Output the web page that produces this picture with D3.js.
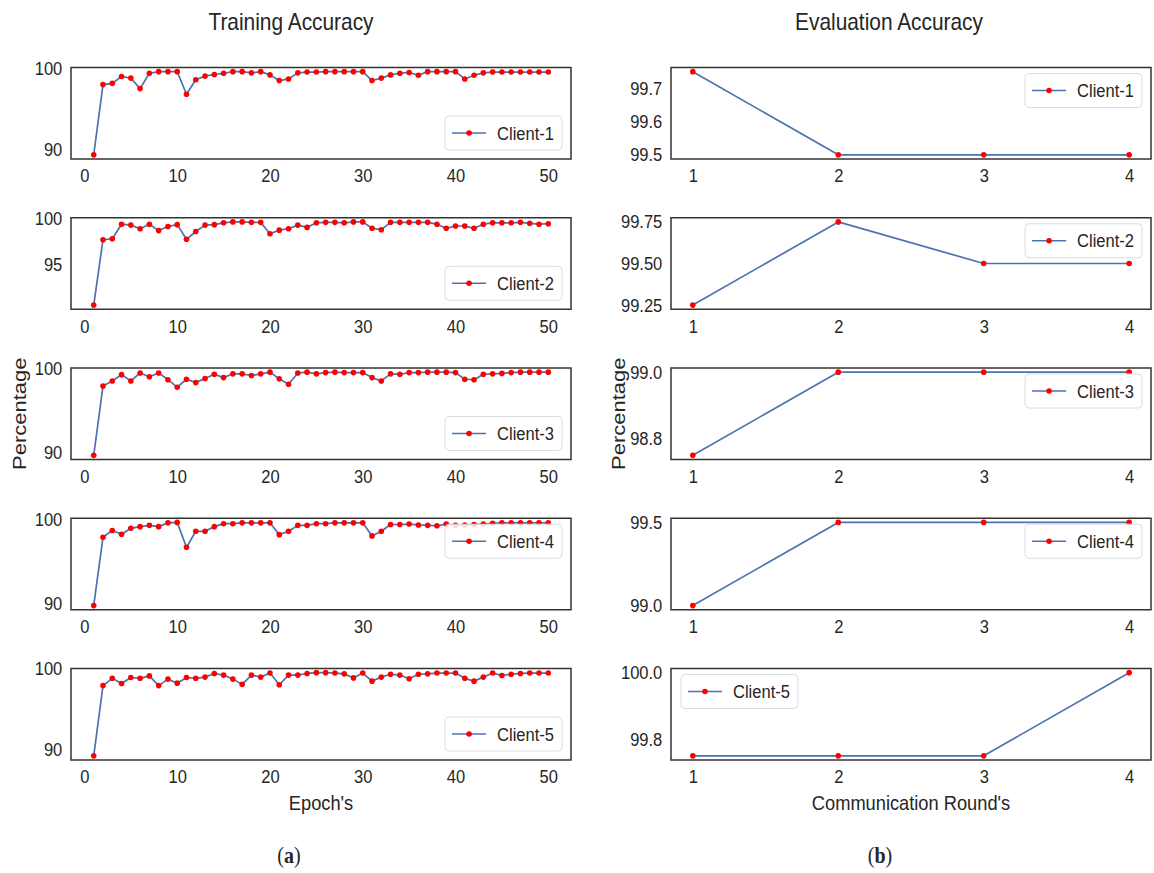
<!DOCTYPE html>
<html>
<head>
<meta charset="utf-8">
<script src="https://cdn.jsdelivr.net/npm/d3@7"></script>
<style>
  body { margin: 0; background: #fff; }
  svg { display: block; }
  text { font-family: "Liberation Sans", Arial, sans-serif; fill: #262626; }
  .caption { font-family: "Liberation Serif", "Times New Roman", serif; }
</style>
</head>
<body>
<svg id="chart" width="1154" height="873"></svg>
<script>
// ---- training accuracy per epoch (%) ----
const epochs = d3.range(1, 51);
const trainClient1 = [89.3, 98.0, 98.15, 99.0, 98.8, 97.5, 99.4, 99.6, 99.6, 99.6,
  96.8, 98.6, 99.05, 99.25, 99.4, 99.6, 99.6, 99.45, 99.6, 99.2,
  98.5, 98.7, 99.45, 99.55, 99.55, 99.6, 99.6, 99.6, 99.6, 99.6,
  98.5, 98.8, 99.2, 99.4, 99.5, 99.15, 99.6, 99.6, 99.6, 99.6,
  98.7, 99.15, 99.45, 99.55, 99.55, 99.55, 99.55, 99.55, 99.55, 99.55];
const trainClient2 = [90.55, 97.7, 97.8, 99.4, 99.3, 98.9, 99.4, 98.7, 99.15, 99.35,
  97.75, 98.6, 99.3, 99.35, 99.55, 99.65, 99.65, 99.6, 99.6, 98.35,
  98.75, 98.9, 99.3, 99.05, 99.55, 99.6, 99.6, 99.55, 99.65, 99.65,
  98.95, 98.8, 99.6, 99.6, 99.6, 99.6, 99.6, 99.4, 98.95, 99.2,
  99.2, 98.95, 99.4, 99.55, 99.55, 99.55, 99.6, 99.5, 99.4, 99.45];
const trainClient3 = [89.6, 97.9, 98.5, 99.25, 98.5, 99.45, 99.0, 99.45, 98.65, 97.75,
  98.7, 98.3, 98.8, 99.3, 98.9, 99.35, 99.35, 99.15, 99.35, 99.55,
  98.75, 98.1, 99.45, 99.55, 99.35, 99.5, 99.55, 99.5, 99.5, 99.5,
  98.9, 98.5, 99.35, 99.3, 99.5, 99.5, 99.55, 99.55, 99.55, 99.5,
  98.7, 98.65, 99.3, 99.35, 99.4, 99.5, 99.55, 99.55, 99.55, 99.55];
const trainClient4 = [89.8, 97.9, 98.7, 98.25, 98.95, 99.15, 99.3, 99.15, 99.6, 99.65,
  96.7, 98.6, 98.6, 99.15, 99.5, 99.5, 99.6, 99.6, 99.6, 99.6,
  98.2, 98.6, 99.3, 99.3, 99.5, 99.5, 99.6, 99.6, 99.6, 99.6,
  98.05, 98.6, 99.4, 99.4, 99.45, 99.35, 99.3, 99.25, 99.45, 99.3,
  99.35, 99.4, 99.45, 99.55, 99.6, 99.6, 99.6, 99.6, 99.6, 99.6];
const trainClient5 = [89.2, 97.9, 98.8, 98.15, 98.9, 98.8, 99.1, 97.9, 98.7, 98.2,
  98.9, 98.8, 98.95, 99.4, 99.2, 98.7, 98.05, 99.2, 98.95, 99.45,
  98.0, 99.2, 99.2, 99.4, 99.5, 99.5, 99.45, 99.35, 98.85, 99.45,
  98.45, 98.95, 99.3, 99.2, 98.75, 99.3, 99.35, 99.45, 99.45, 99.45,
  98.8, 98.45, 98.95, 99.45, 99.15, 99.3, 99.4, 99.45, 99.45, 99.45];

// ---- evaluation accuracy per communication round (%) ----
const rounds = [1, 2, 3, 4];
const evalClient1 = [99.75, 99.5, 99.5, 99.5];
const evalClient2 = [99.25, 99.75, 99.5, 99.5];
const evalClient3 = [98.75, 99.0, 99.0, 99.0];
const evalClient4 = [99.0, 99.5, 99.5, 99.5];
const evalClient5 = [99.75, 99.75, 99.75, 100.0];

const clientNames = ["Client-1", "Client-2", "Client-3", "Client-4", "Client-5"];

// ---- tick labels ----
const trainXTicks = [0, 10, 20, 30, 40, 50];
const evalXTicks = [1, 2, 3, 4];
const trainYTicks = [[90, 100], [95, 100], [90, 100], [90, 100], [90, 100]];
const evalYTicks = [[99.5, 99.6, 99.7], [99.25, 99.5, 99.75], [98.8, 99.0], [99.0, 99.5], [99.8, 100.0]];
const evalYFormats = [".1f", ".2f", ".1f", ".1f", ".1f"];
const trainLegendCorner = ["lr", "lr", "lr", "ur", "lr"];
const evalLegendCorner = ["ur", "ur", "ur", "ur", "ul"];

const trainSeries = [trainClient1, trainClient2, trainClient3, trainClient4, trainClient5];
const evalSeries = [evalClient1, evalClient2, evalClient3, evalClient4, evalClient5];

// ---- layout ----
const svg = d3.select("#chart");
svg.append("rect").attr("width", 1154).attr("height", 873).attr("fill", "#fff");

const rowTops = [67.5, 217.75, 368, 518.25, 668.5];
const panelH = 91.5;
const columns = [
  { x0: 71, x1: 571, title: "Training Accuracy", titleX: 291, xlabel: "Epoch's", ylabelX: 19,
    xs: epochs, series: trainSeries, xTicks: trainXTicks, yTicks: trainYTicks,
    yFmt: [null, null, null, null, null], legend: trainLegendCorner, caption: "a", capX: 289 },
  { x0: 671, x1: 1151, title: "Evaluation Accuracy", titleX: 889, xlabel: "Communication Round's", ylabelX: 618,
    xs: rounds, series: evalSeries, xTicks: evalXTicks, yTicks: evalYTicks,
    yFmt: evalYFormats, legend: evalLegendCorner, caption: "b", capX: 880 }
];

const LINE = "#4c72b0";
const DOT = "#ff0000";
const FS = 19;      // tick and legend text
const SX = 0.87;    // narrow letterforms

function padded(ext, frac) {
  const span = ext[1] - ext[0];
  return [ext[0] - span * frac, ext[1] + span * frac];
}

// text placed at (x, y) with narrowed glyphs
function narrowText(parent, x, y, str, size, anchor) {
  return parent.append("text")
    .attr("transform", `translate(${x},${y}) scale(${SX},1)`)
    .attr("text-anchor", anchor || "start")
    .attr("font-size", size).text(str);
}

columns.forEach(col => {
  const xExt = d3.extent(col.xs);
  const x = d3.scaleLinear().domain(padded(xExt, 0.05)).range([col.x0, col.x1]);

  col.series.forEach((vals, i) => {
    const top = rowTops[i], bottom = top + panelH;
    const y = d3.scaleLinear().domain(padded(d3.extent(vals), 0.05)).range([bottom, top]);
    const g = svg.append("g");
    const pts = col.xs.map((xv, k) => [xv, vals[k]]);

    // y tick labels
    const fmt = col.yFmt[i] ? d3.format(col.yFmt[i]) : d3.format("d");
    const yAxis = d3.axisLeft(y).tickValues(col.yTicks[i]).tickSize(0).tickPadding(10).tickFormat(fmt);
    const ya = g.append("g").attr("transform", `translate(${col.x0},0)`).call(yAxis);
    ya.select(".domain").remove();
    ya.selectAll("text").attr("font-size", FS).attr("fill", "#262626")
      .attr("font-family", "Liberation Sans, Arial, sans-serif")
      .attr("transform", `scale(${SX},1)`);

    // x tick labels
    const xAxis = d3.axisBottom(x).tickValues(col.xTicks).tickSize(0).tickPadding(10).tickFormat(d3.format("d"));
    const xa = g.append("g").attr("transform", `translate(0,${bottom})`).call(xAxis);
    xa.select(".domain").remove();
    xa.selectAll("text").attr("font-size", FS).attr("fill", "#262626")
      .attr("font-family", "Liberation Sans, Arial, sans-serif")
      .attr("transform", `scale(${SX},1)`);

    // series
    g.append("path").datum(pts)
      .attr("fill", "none").attr("stroke", LINE).attr("stroke-width", 1.7)
      .attr("stroke-linejoin", "round")
      .attr("d", d3.line().x(d => x(d[0])).y(d => y(d[1])));
    g.selectAll("circle.pt").data(pts).join("circle")
      .attr("class", "pt")
      .attr("cx", d => x(d[0])).attr("cy", d => y(d[1]))
      .attr("r", 2.8).attr("fill", DOT);

    // frame
    g.append("rect").attr("x", col.x0).attr("y", top)
      .attr("width", col.x1 - col.x0).attr("height", panelH)
      .attr("fill", "none").attr("stroke", "#333").attr("stroke-width", 1.5);

    // legend
    const lg = g.append("g");
    const box = lg.append("rect").attr("rx", 4).attr("ry", 4)
      .attr("fill", "#fff").attr("fill-opacity", 0.85)
      .attr("stroke", "#dcdcdc").attr("stroke-width", 1);
    const handleL = 34, padL = 7, gap = 11, lh = 34;
    const txt = narrowText(lg, padL + handleL + gap, lh / 2, clientNames[i], FS)
      .attr("dy", "0.35em");
    const tw = txt.node().getComputedTextLength() * SX;
    const lw = padL + handleL + gap + tw + 8;
    box.attr("width", lw).attr("height", lh);
    lg.append("line").attr("x1", padL).attr("x2", padL + handleL)
      .attr("y1", lh / 2).attr("y2", lh / 2)
      .attr("stroke", LINE).attr("stroke-width", 1.7);
    lg.append("circle").attr("cx", padL + handleL / 2).attr("cy", lh / 2)
      .attr("r", 2.8).attr("fill", DOT);
    const corner = col.legend[i];
    const lx = corner.endsWith("r") ? col.x1 - 9 - lw : col.x0 + 10;
    const ly = corner.startsWith("u") ? top + 6 : bottom - 9 - lh;
    lg.attr("transform", `translate(${lx},${ly})`);
  });

  // column title, axis labels and caption
  narrowText(svg, col.titleX, 30, col.title, 24, "middle");
  narrowText(svg, (col.x0 + col.x1) / 2, 810, col.xlabel, 21, "middle");
  svg.append("text")
    .attr("transform", `translate(${col.ylabelX},${rowTops[2] + panelH / 2}) scale(${SX},1) rotate(-90)`)
    .attr("text-anchor", "middle").attr("dy", "0.35em").attr("font-size", 22).text("Percentage");
  const cap = narrowText(svg, col.capX, 863, null, 23, "middle")
    .attr("class", "caption").attr("fill", "#000");
  cap.append("tspan").text("(");
  cap.append("tspan").attr("font-weight", "bold").text(col.caption);
  cap.append("tspan").text(")");
});
</script>
</body>
</html>
